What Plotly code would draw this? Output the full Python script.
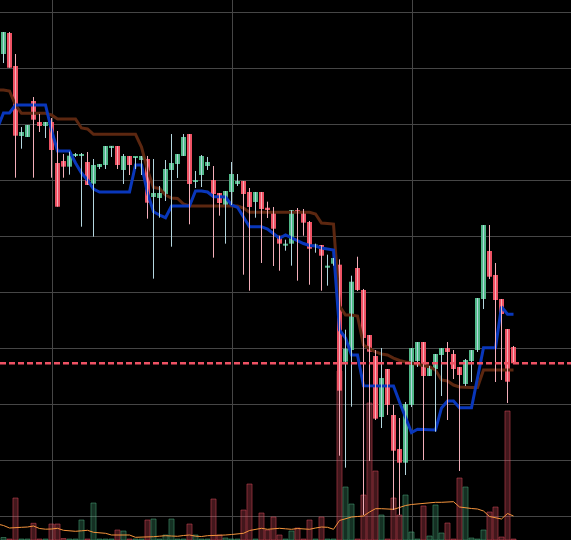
import plotly.graph_objects as go

# ---- data ----
opens = [92.50, 96.25, 90.36, 77.86, 77.68, 84.11, 80.36, 79.64, 80.36, 73.04,
         73.39, 72.38, 74.29, 74.29, 73.21, 69.34, 72.32, 72.68, 75.85, 76.07,
         71.79, 74.29, 73.93, 73.57, 73.75, 66.96, 66.79, 67.50, 71.79, 72.86,
         74.29, 78.21, 69.73, 70.89, 72.50, 70.00, 67.68, 65.36, 67.86, 69.29,
         69.82, 67.86, 66.07, 67.86, 65.05, 64.46, 60.05, 58.27, 58.63, 64.64,
         64.46, 62.50, 58.21, 58.39, 54.34, 55.05, 54.88, 37.55, 39.64, 54.29,
         50.36, 42.32, 38.57, 27.68, 36.25, 28.04, 21.96, 19.52, 29.82, 37.68,
         41.07, 35.00, 36.25, 38.75, 40.00, 38.93, 36.61, 33.57, 37.68, 39.64,
         48.75, 57.32, 53.04, 48.75, 43.39, 40.18]
highs = [96.43, 96.43, 92.50, 79.46, 79.82, 84.82, 81.79, 80.36, 81.07, 78.75,
         74.64, 75.05, 74.82, 74.82, 75.00, 73.75, 72.86, 76.07, 76.07, 76.07,
         74.64, 74.29, 74.11, 74.29, 74.29, 73.75, 68.93, 73.57, 78.21, 74.64,
         78.21, 78.21, 71.61, 74.46, 74.11, 72.50, 67.68, 68.04, 73.21, 71.07,
         69.82, 68.57, 67.86, 67.86, 66.13, 65.18, 60.05, 59.34, 64.64, 65.00,
         64.82, 62.68, 58.63, 58.39, 56.66, 56.07, 55.84, 43.27, 52.91, 56.30,
         50.54, 42.32, 39.64, 40.00, 36.25, 29.82, 27.50, 30.36, 40.00, 41.07,
         41.07, 36.79, 38.93, 40.00, 41.07, 39.64, 36.61, 38.04, 39.64, 48.93,
         61.96, 61.96, 55.18, 48.75, 43.39, 40.36]
lows = [90.89, 90.05, 70.41, 75.59, 77.68, 70.41, 78.57, 77.50, 70.41, 65.23,
        70.41, 70.95, 74.11, 61.66, 69.11, 59.88, 71.96, 71.96, 74.11, 71.96,
        69.29, 70.89, 71.96, 70.89, 63.09, 52.38, 63.27, 66.25, 58.09, 70.36,
        74.29, 62.09, 68.57, 68.75, 71.79, 56.13, 63.63, 58.63, 65.54, 68.93,
        53.09, 50.23, 63.27, 55.18, 63.21, 54.64, 53.80, 57.38, 54.70, 52.02,
        60.05, 51.30, 57.02, 50.23, 51.13, 54.70, 20.77, 18.63, 29.52, 50.18,
        10.18, 19.82, 27.14, 25.71, 28.04, 11.07, 10.18, 17.32, 29.46, 36.61,
        20.00, 35.00, 25.05, 31.43, 27.14, 34.46, 18.04, 33.21, 33.93, 39.29,
        46.96, 52.32, 33.93, 34.29, 30.18, 37.27]
closes = [96.43, 90.05, 77.91, 78.57, 79.82, 80.77, 79.64, 80.36, 75.36, 65.23,
          72.38, 74.34, 74.46, 74.46, 69.11, 72.68, 72.86, 76.07, 76.07, 72.68,
          74.29, 72.68, 74.11, 74.29, 65.95, 67.68, 67.68, 71.96, 73.04, 74.64,
          77.68, 69.29, 69.82, 74.29, 73.21, 67.50, 65.89, 68.04, 71.07, 69.82,
          67.50, 65.18, 67.86, 64.82, 64.70, 61.30, 58.63, 58.63, 64.64, 64.34,
          62.38, 57.73, 58.45, 56.48, 54.70, 56.07, 32.38, 39.88, 51.84, 50.36,
          41.79, 39.34, 27.38, 34.64, 29.82, 21.66, 19.52, 30.00, 40.00, 41.07,
          35.00, 36.43, 38.93, 40.00, 39.29, 36.25, 35.18, 37.86, 39.64, 48.93,
          61.96, 52.73, 48.57, 46.07, 33.98, 37.27]
volumes = [25, 10, 420, 10, 10, 167, 10, 10, 160, 160,
           15, 10, 10, 200, 10, 370, 10, 10, 10, 100,
           90, 10, 10, 10, 200, 210, 10, 50, 210, 10,
           10, 160, 50, 10, 10, 410, 50, 20, 10, 10,
           300, 560, 10, 270, 100, 230, 50, 10, 90, 120,
           10, 200, 10, 230, 10, 10, 1690, 530, 360, 10,
           450, 1370, 690, 250, 10, 420, 250, 450, 80, 10,
           340, 40, 350, 70, 170, 10, 620, 530, 20, 10,
           100, 280, 330, 30, 1290, 10]

# indicator lines start one bar before the first visible candle
conversion_line = [79.29, 81.96, 81.96, 83.39, 83.39, 83.39, 83.39, 83.39, 83.39, 78.93,
                   75.18, 75.18, 75.18, 73.04, 71.25, 70.00, 68.39, 67.86, 67.86, 67.86,
                   67.86, 67.86, 67.86, 72.68, 72.68, 67.68, 64.34, 63.75, 63.27, 65.36,
                   65.36, 65.36, 65.36, 68.04, 68.04, 67.86, 67.02, 67.02, 66.96, 65.54,
                   65.13, 63.39, 61.66, 61.66, 61.66, 61.25, 60.36, 59.59, 60.18, 59.64,
                   59.11, 58.66, 58.30, 58.21, 57.86, 57.68, 57.50, 43.21, 41.79, 38.75,
                   38.75, 33.27, 33.27, 33.27, 33.27, 33.27, 33.21, 30.36, 27.50, 24.88,
                   25.48, 25.48, 25.48, 25.36, 29.29, 30.54, 30.54, 29.34, 29.34, 29.34,
                   34.64, 40.05, 40.05, 40.05, 47.38, 46.02, 46.02]
base_line = [86.07, 86.07, 85.89, 83.39, 81.91, 81.91, 81.91, 81.91, 81.91, 81.61,
             80.89, 80.89, 80.89, 80.89, 79.29, 79.11, 78.16, 78.16, 78.16, 78.16,
             78.16, 78.16, 78.16, 78.16, 75.89, 71.79, 68.66, 68.48, 67.32, 66.79,
             66.70, 65.71, 65.36, 65.36, 65.36, 65.36, 65.36, 65.36, 65.36, 65.36,
             65.36, 65.00, 64.23, 64.23, 64.23, 64.23, 64.23, 64.23, 64.23, 64.23,
             64.23, 64.23, 64.23, 63.93, 62.32, 62.23, 62.14, 47.50, 45.89, 45.89,
             45.71, 40.54, 39.91, 39.29, 38.93, 38.75, 38.21, 37.77, 37.50, 37.32,
             37.14, 36.96, 36.66, 36.07, 34.29, 34.11, 33.39, 33.04, 32.95, 32.95,
             32.95, 36.07, 36.07, 36.07, 36.07, 36.07, 36.07]
volume_ma = [160, 145, 120, 127, 127, 130, 140, 115, 108, 110,
             117, 97, 92, 87, 92, 97, 77, 72, 67, 50,
             50, 50, 50, 27, 27, 30, 33, 38, 43, 40,
             37, 45, 50, 38, 35, 43, 43, 43, 50, 55,
             62, 67, 95, 105, 117, 107, 112, 117, 112, 107,
             115, 112, 107, 120, 130, 127, 107, 195, 215, 230,
             235, 240, 280, 313, 313, 310, 307, 325, 345, 355,
             362, 367, 372, 377, 377, 380, 383, 330, 320, 315,
             310, 290, 235, 220, 210, 265, 240]

x_candle = list(range(len(closes)))
x_line = list(range(-1, len(closes)))

GREEN = "#51b888"
RED = "#ee5264"
GREEN_WICK = "#b4d6df"
RED_WICK = "#f4afba"

up = [c >= o for o, c in zip(opens, closes)]
body_base = [min(o, c) for o, c in zip(opens, closes)]
body_len = [max(abs(c - o), 0.25) for o, c in zip(opens, closes)]

fig = go.Figure()

# volume (base axis, drawn underneath)
fig.add_trace(go.Bar(
    x=x_candle, y=volumes, width=0.85,
    marker=dict(color=["rgba(82,184,136,0.26)" if u else "rgba(238,82,100,0.28)" for u in up],
                line=dict(color=["rgba(82,184,136,0.45)" if u else "rgba(238,82,100,0.45)" for u in up],
                          width=1)),
    yaxis="y", hoverinfo="skip"))
fig.add_trace(go.Scatter(x=x_line, y=volume_ma, mode="lines",
                         line=dict(color="#f5943c", width=1), yaxis="y", hoverinfo="skip"))

# indicator lines
fig.add_trace(go.Scatter(x=x_line, y=base_line, mode="lines",
                         line=dict(color="#5c2710", width=3), yaxis="y2", hoverinfo="skip"))
fig.add_trace(go.Scatter(x=x_line, y=conversion_line, mode="lines",
                         line=dict(color="#0937bb", width=3), yaxis="y2", hoverinfo="skip"))

# wicks
for flag, col in ((True, GREEN_WICK), (False, RED_WICK)):
    wx, wy = [], []
    for i, (h, l, u) in enumerate(zip(highs, lows, up)):
        if u == flag:
            wx += [i, i, None]
            wy += [l, h, None]
    fig.add_trace(go.Scatter(x=wx, y=wy, mode="lines", line=dict(color=col, width=1),
                             yaxis="y2", hoverinfo="skip"))

# candle bodies
fig.add_trace(go.Bar(
    x=x_candle, y=body_len, base=body_base, width=0.83,
    marker=dict(color=[GREEN if u else RED for u in up], line=dict(width=0)),
    yaxis="y2", hoverinfo="skip"))

# last price line
fig.add_shape(type="line", xref="paper", x0=0, x1=1, yref="y2",
              y0=closes[-1], y1=closes[-1],
              line=dict(color=RED, width=2.5, dash="6px,3px"), layer="above")

GRID = "#464646"
fig.update_layout(
    width=571, height=540,
    margin=dict(l=0, r=0, t=0, b=0, pad=0),
    paper_bgcolor="#000000", plot_bgcolor="#000000",
    showlegend=False, hovermode=False, barmode="overlay",
    xaxis=dict(range=[-0.583, 94.583], showgrid=True, gridcolor=GRID, gridwidth=1,
               tick0=8.13, dtick=30, showticklabels=False, zeroline=False,
               showline=False, ticks="", fixedrange=True),
    yaxis=dict(range=[0, 5400], visible=False, showgrid=False, fixedrange=True),
    yaxis2=dict(range=[5.714, 102.143], overlaying="y", side="right",
                showgrid=True, gridcolor=GRID, gridwidth=1, tick0=0, dtick=10,
                showticklabels=False, zeroline=False, showline=False, ticks="",
                fixedrange=True),
)

fig.write_html("out.html", config={"displayModeBar": False},
               post_script="document.body.style.margin='0';document.body.style.background='#000';")
